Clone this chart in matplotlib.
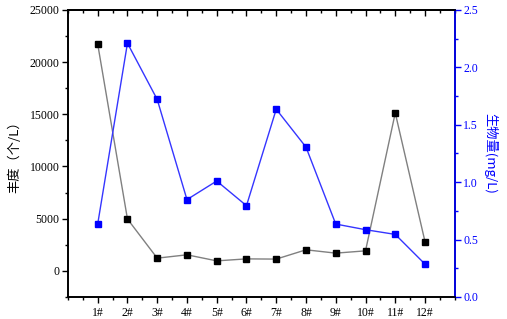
import numpy as np
import matplotlib.pyplot as plt
from matplotlib.ticker import MultipleLocator

sites = ['1#', '2#', '3#', '4#', '5#', '6#', '7#', '8#', '9#', '10#', '11#', '12#']
abundance = [21730, 4970, 1220, 1540, 960, 1150, 1130, 2020, 1700, 1920, 15130, 2790]
biomass = [0.635, 2.21, 1.72, 0.848, 1.01, 0.795, 1.635, 1.305, 0.635, 0.586, 0.545, 0.286]

plt.rcParams['font.family'] = ['Liberation Serif', 'Noto Sans CJK SC']
cjk = ['Noto Sans CJK SC', 'Liberation Serif']

x = np.arange(1, len(sites) + 1)

fig = plt.figure(figsize=(5.07, 3.19), dpi=100)
ax = fig.add_axes([0.134, 0.069, 0.763, 0.9])
ax2 = ax.twinx()

ax.plot(x, abundance, color='#808080', lw=1, marker='s', ms=5,
        mfc='black', mec='black', zorder=3)
ax2.plot(x, biomass, color='#3535ff', lw=1, marker='s', ms=5,
         mfc='#0000ff', mec='#0000ff', zorder=3)

ax.set_xlim(0, 13)
ax.set_ylim(-2500, 25000)
ax2.set_ylim(0, 2.5)

ax.set_xticks(x)
ax.set_xticklabels(sites)
ax.xaxis.set_minor_locator(MultipleLocator(0.5))
ax.yaxis.set_major_locator(MultipleLocator(5000))
ax.yaxis.set_minor_locator(MultipleLocator(2500))
ax2.yaxis.set_major_locator(MultipleLocator(0.5))
ax2.yaxis.set_minor_locator(MultipleLocator(0.25))
ax2.yaxis.set_major_formatter(plt.FormatStrFormatter('%.1f'))

# top axis: ticks pointing inward, no labels
top = ax.secondary_xaxis('top')
top.set_xticks(x)
top.xaxis.set_minor_locator(MultipleLocator(0.5))
top.tick_params(axis='x', which='both', direction='in', labeltop=False, width=1)
top.tick_params(axis='x', which='major', length=4)
top.tick_params(axis='x', which='minor', length=2.5)
top.spines['top'].set_linewidth(1.2)

ax.tick_params(axis='x', which='both', direction='out', top=False, labelsize=8.5, pad=3)
ax.tick_params(axis='x', which='major', length=4, width=1)
ax.tick_params(axis='x', which='minor', length=2.5, width=1)
ax.tick_params(axis='y', which='major', direction='out', length=4, width=1, labelsize=8.5, pad=2)
ax.tick_params(axis='y', which='minor', direction='out', length=2.5, width=1)
ax2.tick_params(axis='y', which='major', direction='out', length=4, width=1,
                colors='#0000ff', labelsize=8.5, pad=2)
ax2.tick_params(axis='y', which='minor', direction='out', length=2.5, width=1, colors='#0000ff')

for s in ax.spines.values():
    s.set_linewidth(1.2)
for s in ax2.spines.values():
    s.set_linewidth(1.2)
ax2.spines['right'].set_color('#0000ff')

ax.set_ylabel('丰度（个/L）', family=cjk, fontsize=9.5, labelpad=6)
ax2.set_ylabel('生物量(mg/L)', family=cjk, fontsize=9.5, color='#0000ff',
               rotation=270, labelpad=14)

fig.savefig('out.png', dpi=100)
